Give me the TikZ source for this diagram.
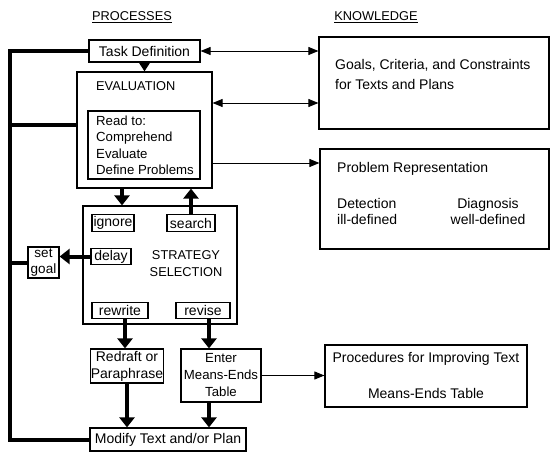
\documentclass[tikz,border=0pt]{standalone}
\usepackage{fontspec}
\setmainfont{Liberation Sans}
\usetikzlibrary{arrows.meta}
\newcommand{\mainfs}{\fontsize{14}{17}\selectfont}
\newcommand{\capfs}{\fontsize{12.8}{17}\selectfont}
\begin{document}
\begin{tikzpicture}[x=1pt,y=-1pt,
  box/.style={draw,line width=1.2pt,inner sep=0pt,align=center,font=\mainfs},
  sbox/.style={draw,line width=1.2pt,inner sep=0pt,minimum height=16.5pt,font=\mainfs},
  txt/.style={inner sep=0pt,font=\mainfs},
  captxt/.style={inner sep=0pt,font=\capfs},
  thinboth/.style={line width=0.9pt,{Triangle[width=8pt,length=10pt]}-{Triangle[width=8pt,length=10pt]}},
  thinarrow/.style={line width=0.9pt,-{Triangle[width=8pt,length=10pt]}},
  medarrow/.style={line width=2pt,-{Triangle[width=11pt,length=9pt]}},
  thickarrow/.style={line width=4pt,-{Triangle[width=15pt,length=10pt]}},
  loopline/.style={line width=4pt,line join=miter}]
\useasboundingbox (0,0) rectangle (550,455);

% headings
\node[captxt] (hproc) at (132,17) {\underline{PROCESSES}};
\node[captxt] (hknow) at (376,17) {\underline{KNOWLEDGE}};

% process boxes
\node[box,minimum width=111pt,minimum height=22pt] (task) at (144.5,51) {Task Definition};
\node[box,minimum width=135pt,minimum height=116pt] (eval) at (144.5,130) {};
\node[captxt,anchor=west] (evaltxt) at (96,86) {EVALUATION};
\node[box,minimum width=112pt,minimum height=68pt] (read) at (144,145) {};
\node[txt,anchor=west,align=left,font=\fontsize{13.2}{16.5}\selectfont] (readtxt) at (96,145.5) {Read to:\\Comprehend\\Evaluate\\Define Problems};

\node[box,minimum width=154pt,minimum height=118pt] (strat) at (160,265) {};
\node[sbox,minimum width=42pt] (ignore) at (113,223) {ignore};
\node[sbox,minimum width=48pt] (search) at (191,223) {search};
\node[sbox,minimum width=40pt] (delay) at (111,256.5) {delay};
\node[sbox,minimum width=56pt] (rewrite) at (120,310.5) {rewrite};
\node[sbox,minimum width=54pt] (revise) at (203,310.5) {revise};
\node[captxt,align=center] (strattxt) at (186,264) {STRATEGY\\SELECTION};

\node[box,minimum width=31pt,minimum height=31pt,font=\fontsize{13.5}{16}\selectfont] (setgoal) at (43.5,262.5) {set\\goal};
\node[box,minimum width=72pt,minimum height=34pt] (redraft) at (127,366) {Redraft or\\Paraphrase};
\node[box,minimum width=80pt,minimum height=53pt,font=\fontsize{13.2}{17}\selectfont] (enter) at (221,375.5) {Enter\\Means-Ends\\Table};
\node[box,minimum width=156pt,minimum height=23pt] (modify) at (168,439.5) {Modify Text and/or Plan};

% knowledge boxes
\node[box,minimum width=230pt,minimum height=92pt] (goals) at (434,83) {};
\node[txt,anchor=west,align=left,font=\fontsize{14}{20}\selectfont] (goalstxt) at (335,74) {Goals, Criteria, and Constraints\\for Texts and Plans};
\node[box,minimum width=229pt,minimum height=100pt] (prob) at (434.5,199) {};
\node[txt,anchor=west] (probtxt) at (337,169) {Problem Representation};
\node[txt,anchor=west,align=left,font=\fontsize{14}{16}\selectfont] (detect) at (337,211) {Detection\\ill-defined};
\node[txt,align=center,font=\fontsize{14}{16}\selectfont] (diag) at (488,211) {Diagnosis\\well-defined};
\node[box,minimum width=202pt,minimum height=62pt] (proc) at (426,376) {};
\node[txt] (proctxt) at (426,359) {Procedures for Improving Text};
\node[txt] (mettxt) at (426,393) {Means-Ends Table};

% helper coordinates
\coordinate (c103) at (0,103);
\coordinate (c125) at (0,125);
\coordinate (c163) at (0,163);
\coordinate (x122) at (122,0);
\coordinate (x125) at (125,0);
\coordinate (x209) at (209,0);
\coordinate (L) at (10,0);

% knowledge links
\draw[thinboth] (task.east) -- (task.east -| goals.west);
\draw[thinboth] (eval.east |- c103) -- (goals.west |- c103);
\draw[thinarrow] (eval.east |- c163) -- (prob.west |- c163);
\draw[thinarrow] (enter.east) -- (enter.east -| proc.west);

% process flow
\draw[medarrow] (task.south) -- (eval.north);
\draw[thickarrow] (eval.south -| x122) -- (strat.north -| x122);
\draw[thickarrow] (search.north) -- (eval.south -| search.north);
\draw[thickarrow] (delay.west) -- (delay.west -| setgoal.east);
\draw[thickarrow] (rewrite.south -| x125) -- (redraft.north -| x125);
\draw[thickarrow] (revise.south -| x209) -- (enter.north -| x209);
\draw[thickarrow] (redraft.south) -- (modify.north -| redraft.south);
\draw[thickarrow] (enter.south -| x209) -- (modify.north -| x209);

% feedback loop
\draw[loopline] (task.west) -- (task.west -| L) -- (modify.west -| L) -- (modify.west);
\draw[loopline] (eval.west |- c125) -- (L |- c125);
\draw[loopline] (setgoal.west) -- (setgoal.west -| L);
\end{tikzpicture}
\end{document}
